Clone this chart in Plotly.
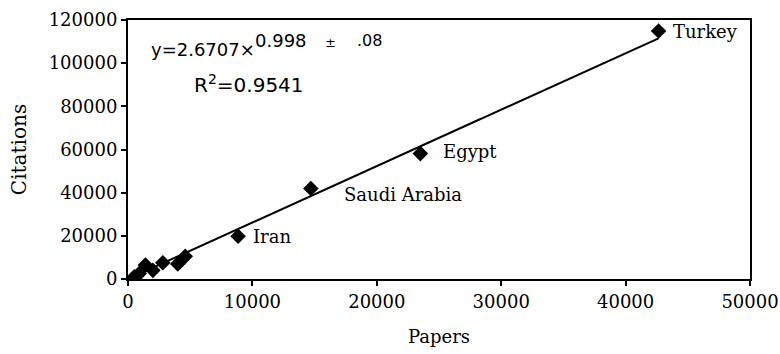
import numpy as np
import plotly.graph_objects as go

# Publication output vs citations per country
papers = [500, 900, 1400, 2000, 2800, 4000, 4600, 8850, 14700, 23500, 42650]
citations = [1000, 2500, 6500, 4000, 7500, 7000, 10500, 19800, 41900, 58100, 114900]

labeled = {"Iran": 7, "Saudi Arabia": 8, "Egypt": 9, "Turkey": 10}
label_offsets = {"Iran": (13, 0), "Saudi Arabia": (31, -6), "Egypt": (21, 2), "Turkey": (12, 0)}

x_ticks = [0, 10000, 20000, 30000, 40000, 50000]
y_ticks = [0, 20000, 40000, 60000, 80000, 100000, 120000]

# Power-law trend: y = a * x^b
fit_a, fit_b = 2.6707, 0.998
trend_x = np.linspace(min(papers), max(papers), 200)
trend_y = fit_a * trend_x ** fit_b

serif = "DejaVu Serif"
sans = "DejaVu Sans"

# plot-area geometry, for placing free text in pixel terms
L, R, T, B = 128, 750, 20, 279


def px(x):
    return (x - L) / (R - L)


def py(y):
    return (B - y) / (B - T)


fig = go.Figure()
fig.add_trace(go.Scatter(
    x=trend_x, y=trend_y, mode="lines",
    line=dict(color="black", width=2), hoverinfo="skip", showlegend=False,
))
fig.add_trace(go.Scatter(
    x=papers, y=citations, mode="markers",
    marker=dict(symbol="diamond", size=12, color="black"),
    showlegend=False,
))

for name, idx in labeled.items():
    dx, dy = label_offsets[name]
    fig.add_annotation(
        x=papers[idx], y=citations[idx], text=name, showarrow=False,
        xanchor="left", yanchor="middle", xshift=dx, yshift=dy,
        font=dict(family=serif, size=18, color="black"),
    )

# fitted equation
eq_font = dict(family=sans, size=18, color="black")
fig.add_annotation(xref="paper", yref="paper", x=px(149), y=py(49),
                   text="y=2.6707×", showarrow=False,
                   xanchor="left", yanchor="middle", font=eq_font)
fig.add_annotation(xref="paper", yref="paper", x=px(253), y=py(41),
                   text="0.998", showarrow=False,
                   xanchor="left", yanchor="middle", font=eq_font)
fig.add_annotation(xref="paper", yref="paper", x=px(323), y=py(42),
                   text="±", showarrow=False,
                   xanchor="left", yanchor="middle",
                   font=dict(family=sans, size=13, color="black"))
fig.add_annotation(xref="paper", yref="paper", x=px(355), y=py(41),
                   text=".08", showarrow=False,
                   xanchor="left", yanchor="middle",
                   font=dict(family=sans, size=16, color="black"))
fig.add_annotation(xref="paper", yref="paper", x=px(192), y=py(84),
                   text="R<sup>2</sup>=0.9541", showarrow=False,
                   xanchor="left", yanchor="middle",
                   font=dict(family=sans, size=20, color="black"))

fig.update_xaxes(
    range=[0, 50000], tickvals=x_ticks, tickformat="d",
    showgrid=False, zeroline=False, automargin=False,
    showline=True, linecolor="black", linewidth=2, mirror=True,
    ticks="outside", ticklen=5, tickwidth=2, tickcolor="black",
    tickfont=dict(family=serif, size=18, color="black"),
    title=dict(text="Papers", font=dict(family=serif, size=18, color="black"), standoff=20),
)
fig.update_yaxes(
    range=[0, 120000], tickvals=y_ticks, tickformat="d",
    showgrid=False, zeroline=False, automargin=False,
    showline=True, linecolor="black", linewidth=2, mirror=True,
    ticks="outside", ticklen=5, tickwidth=2, tickcolor="black",
    tickfont=dict(family=serif, size=18, color="black"),
    title=dict(text="Citations", font=dict(family=serif, size=20, color="black"), standoff=17),
)

fig.update_layout(
    width=780, height=354,
    margin=dict(l=L, r=780 - R, t=T, b=354 - B),
    paper_bgcolor="white", plot_bgcolor="white",
)

fig.write_html("out.html")
